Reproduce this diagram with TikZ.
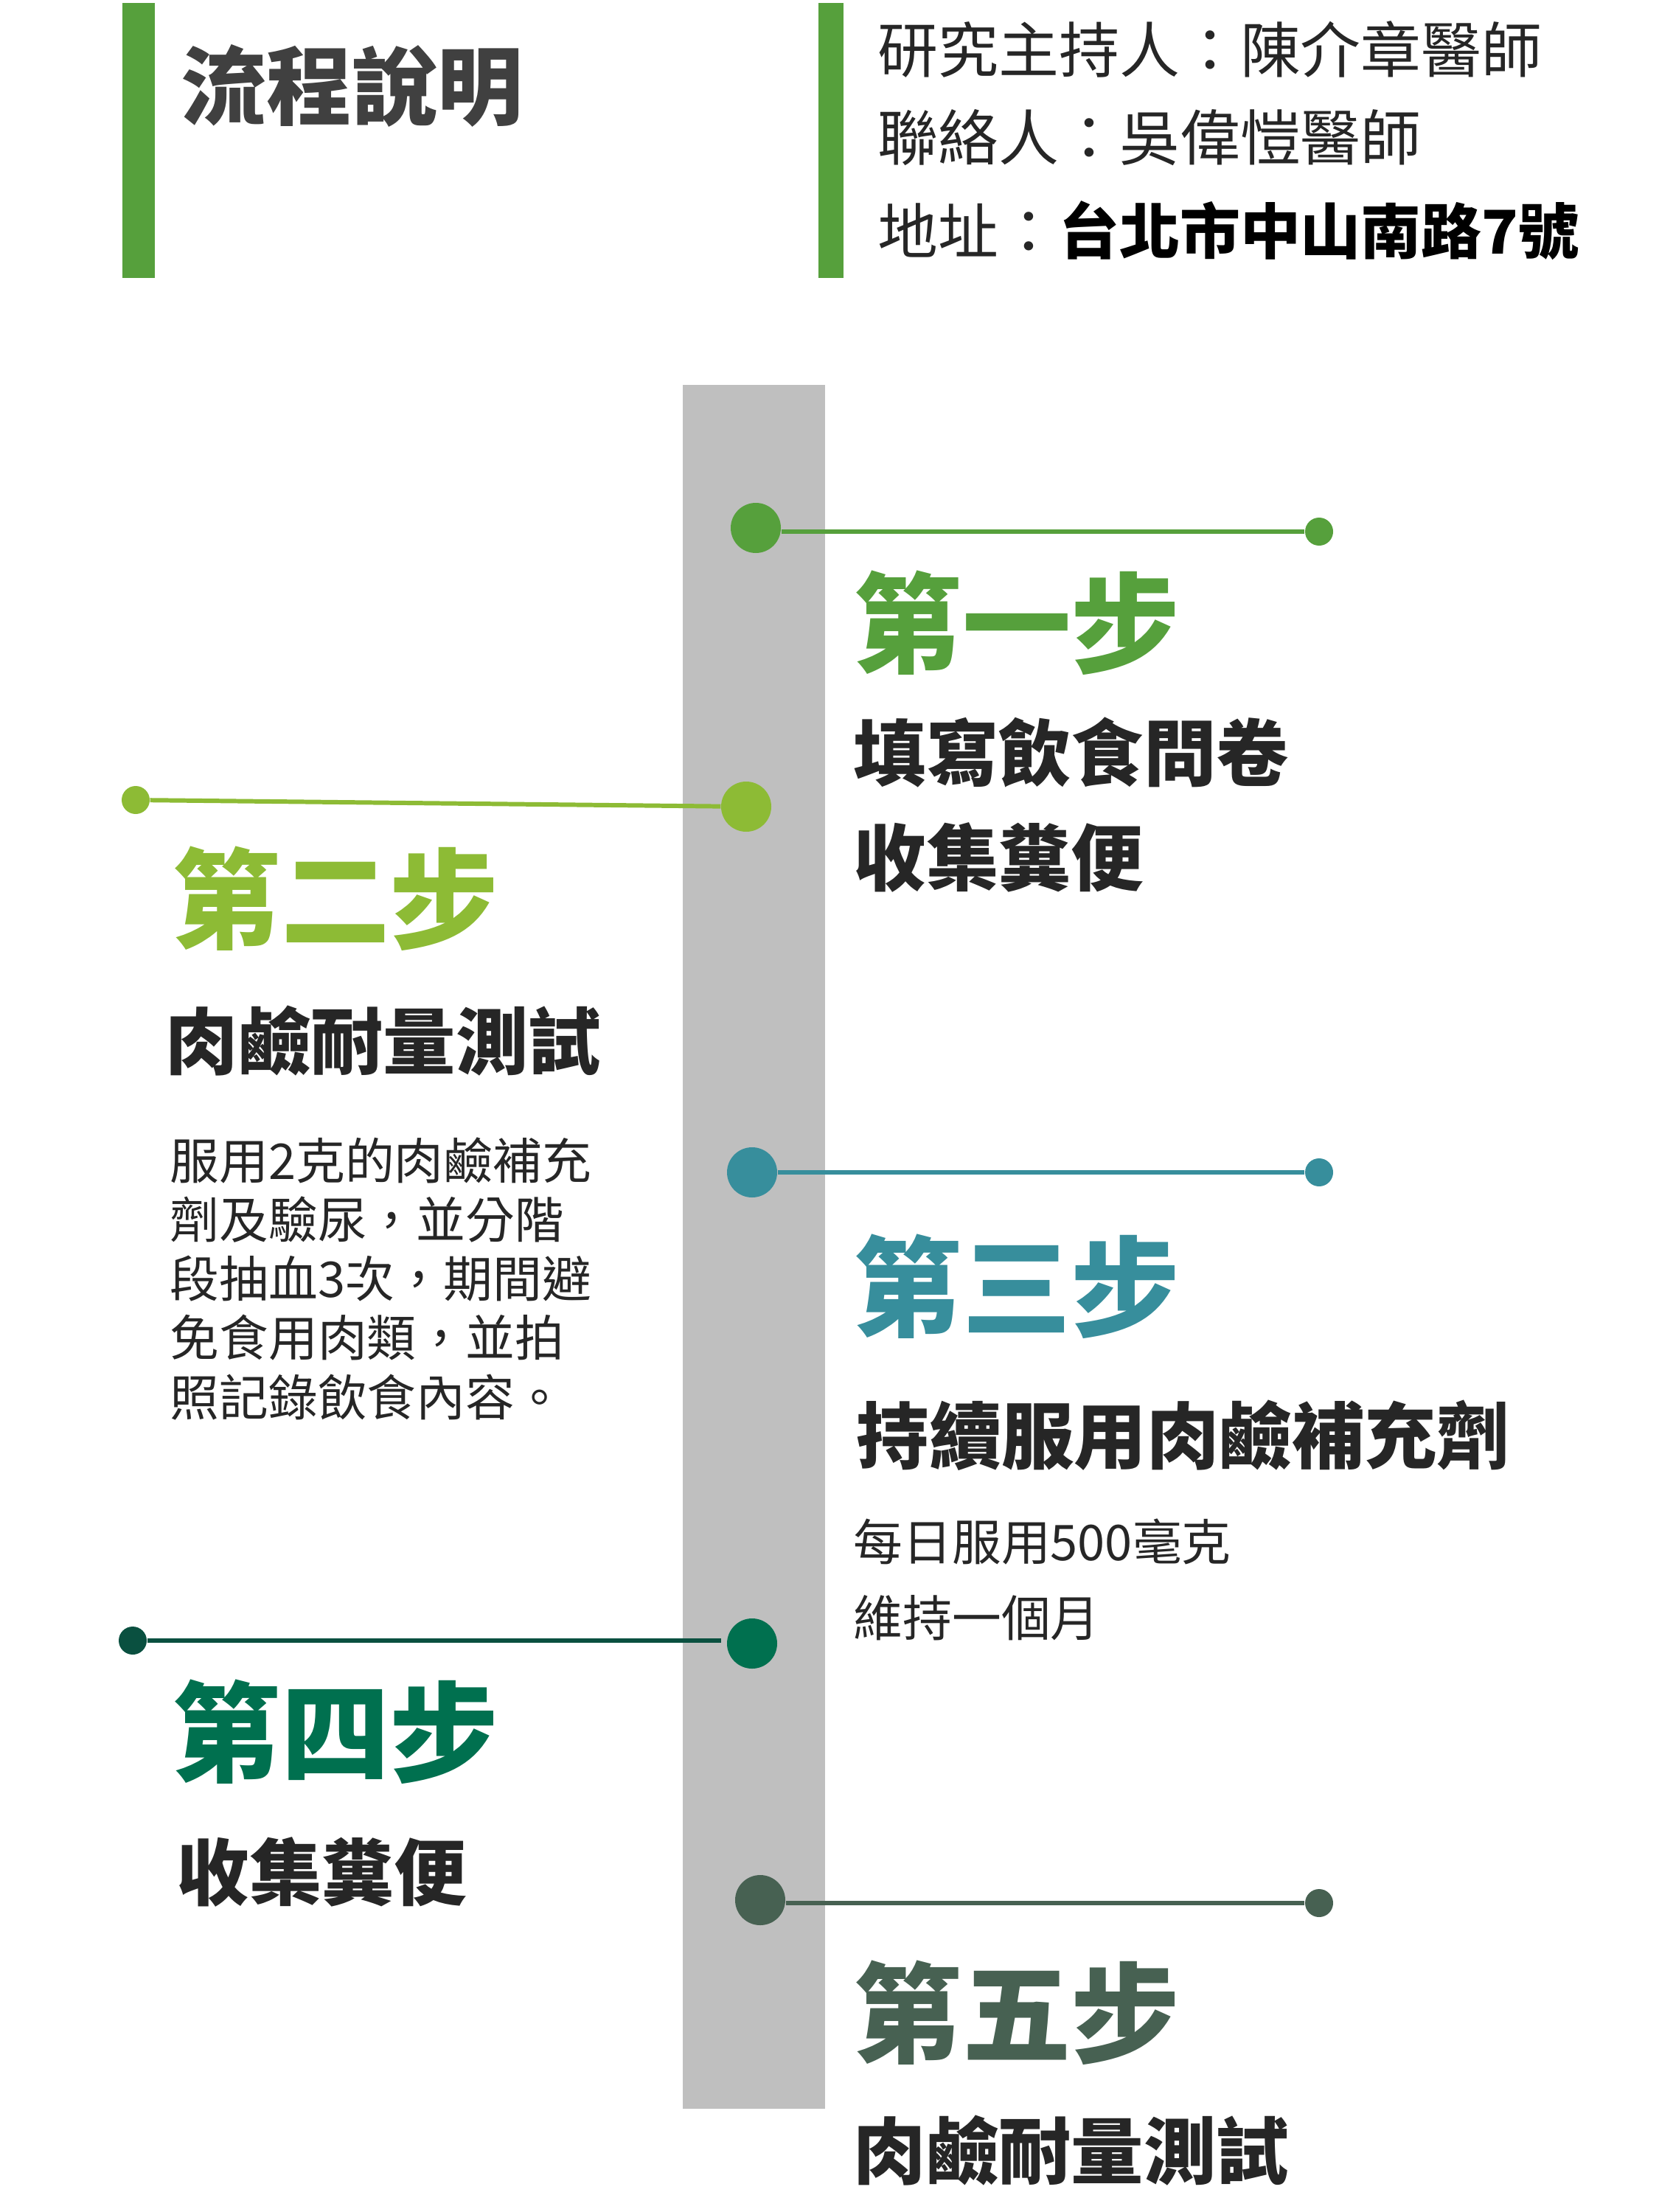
\documentclass[tikz,border=0pt]{standalone}
\usepackage{fontspec}
\setmainfont{Noto Sans CJK TC}
\definecolor{gOne}{HTML}{56A03C}
\definecolor{gTwo}{HTML}{8DBB35}
\definecolor{gThree}{HTML}{378E9C}
\definecolor{gFour}{HTML}{00704F}
\definecolor{gFourDark}{HTML}{0A5040}
\definecolor{gFive}{HTML}{476152}
\definecolor{barGray}{HTML}{BFBFBF}
\definecolor{txtDark}{HTML}{262626}
\definecolor{titleGray}{HTML}{404040}
\tikzset{
  bigdot/.style={circle, inner sep=0pt, minimum size=0.68cm},
  smalldot/.style={circle, inner sep=0pt, minimum size=0.38cm},
  link/.style={line width=1.7pt},
  steptitle/.style={anchor=west, inner sep=0pt, font=\fontsize{42pt}{48pt}\selectfont\bfseries},
  stepsub/.style={anchor=west, inner sep=0pt, text=txtDark, font=\fontsize{28pt}{34pt}\selectfont\bfseries},
  stepbody/.style={anchor=west, inner sep=0pt, text=txtDark, font=\fontsize{19pt}{22.8pt}\selectfont},
  headline/.style={anchor=west, inner sep=0pt, text=txtDark, font=\fontsize{23.3pt}{28pt}\selectfont},
}
\begin{document}
\begin{tikzpicture}
\useasboundingbox (0,0) rectangle (22.5,-30);
% header bars
\fill[gOne] (1.66,-0.04) rectangle (2.10,-3.77);
\fill[gOne] (11.10,-0.04) rectangle (11.44,-3.77);
\node[anchor=west, inner sep=0pt, text=titleGray, font=\fontsize{33pt}{40pt}\selectfont\bfseries] (title) at (2.45,-1.16) {流程說明};
\node[headline] (h1) at (11.90,-0.67) {研究主持人：陳介章醫師};
\node[headline] (h2) at (11.90,-1.87) {聯絡人：吳偉愷醫師};
\node[headline] (h3) at (11.90,-3.13) {地址：{\bfseries\color{black}台北市中山南路7號}};
% timeline bar
\fill[barGray] (9.26,-5.22) rectangle (11.19,-28.60);
% step 1
\node[bigdot, fill=gOne] (d1) at (10.25,-7.16) {};
\node[smalldot, fill=gOne] (e1) at (17.89,-7.21) {};
\draw[link, gOne] (d1.east |- e1) -- (e1);
\node[steptitle, text=gOne] (t1) at (11.57,-8.45) {第一步};
\node[stepsub] (s1a) at (11.57,-10.20) {填寫飲食問卷};
\node[stepsub] (s1b) at (11.57,-11.63) {收集糞便};
% step 2
\node[bigdot, fill=gTwo] (d2) at (10.12,-10.94) {};
\node[smalldot, fill=gTwo] (e2) at (1.84,-10.85) {};
\draw[link, gTwo] (e2) -- (d2);
\node[steptitle, text=gTwo] (t2) at (2.33,-12.19) {第二步};
\node[stepsub] (s2) at (2.24,-14.12) {肉鹼耐量測試};
\node[anchor=north west, inner sep=0pt, text=txtDark, align=left, font=\fontsize{19pt}{22.8pt}\selectfont] (p2) at (2.30,-15.42)
  {服用2克的肉鹼補充\\劑及驗尿，並分階\\段抽血3次，期間避\\免食用肉類，並拍\\照記錄飲食內容。};
% step 3
\node[bigdot, fill=gThree] (d3) at (10.20,-15.90) {};
\node[smalldot, fill=gThree] (e3) at (17.89,-15.90) {};
\draw[link, gThree] (d3) -- (e3);
\node[steptitle, text=gThree] (t3) at (11.57,-17.45) {第三步};
\node[stepsub] (s3) at (11.61,-19.47) {持續服用肉鹼補充劑};
\node[stepbody] (b3a) at (11.57,-20.91) {每日服用500毫克};
\node[stepbody] (b3b) at (11.57,-21.94) {維持一個月};
% step 4
\node[bigdot, fill=gFour] (d4) at (10.20,-22.29) {};
\node[smalldot, fill=gFourDark] (e4) at (1.80,-22.25) {};
\coordinate (c4) at (9.78,-22.25);
\draw[link, gFourDark] (e4) -- (c4);
\node[steptitle, text=gFour] (t4) at (2.33,-23.49) {第四步};
\node[stepsub] (s4) at (2.39,-25.39) {收集糞便};
% step 5
\node[bigdot, fill=gFive] (d5) at (10.31,-25.77) {};
\node[smalldot, fill=gFive] (e5) at (17.89,-25.81) {};
\draw[link, gFive] (d5.east |- e5) -- (e5);
\node[steptitle, text=gFive] (t5) at (11.57,-27.30) {第五步};
\node[stepsub] (s5) at (11.57,-29.17) {肉鹼耐量測試};
\end{tikzpicture}
\end{document}
